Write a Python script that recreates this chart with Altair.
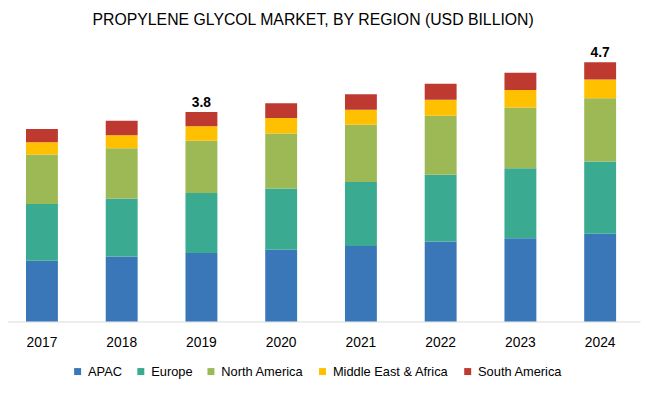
import altair as alt
import pandas as pd

years = ["2017", "2018", "2019", "2020", "2021", "2022", "2023", "2024"]
regions = ["APAC", "Europe", "North America", "Middle East & Africa", "South America"]
apac = [1.10, 1.18, 1.24, 1.30, 1.37, 1.45, 1.51, 1.59]
europe = [1.03, 1.05, 1.09, 1.11, 1.16, 1.21, 1.27, 1.31]
north_america = [0.90, 0.91, 0.95, 1.00, 1.04, 1.07, 1.10, 1.15]
middle_east_africa = [0.22, 0.24, 0.26, 0.28, 0.27, 0.29, 0.32, 0.34]
south_america = [0.24, 0.26, 0.26, 0.27, 0.28, 0.29, 0.31, 0.31]
colors = ["#3A77B9", "#3AAA91", "#9DB955", "#FFC000", "#BE3A30"]

label_years = ["2019", "2024"]
label_values = [3.8, 4.7]

series = [apac, europe, north_america, middle_east_africa, south_america]
rows = []
for i, (name, vals) in enumerate(zip(regions, series)):
    for y, v in zip(years, vals):
        rows.append({"Year": y, "Region": name, "Value": v, "idx": i})
df = pd.DataFrame(rows)
labels = pd.DataFrame({"Year": label_years, "Total": label_values})

x = alt.X("Year:N", sort=years, title=None,
          scale=alt.Scale(range=[-6, 640], paddingInner=0.6, paddingOuter=0.3),
          axis=alt.Axis(labelAngle=0, ticks=False, domainColor="#D9D9D9",
                        labelFontSize=14, labelFont="Liberation Sans",
                        labelColor="#000000", labelPadding=14))
yscale = alt.Scale(domain=[0, 5.07])

bars = alt.Chart(df).mark_bar().encode(
    x=x,
    y=alt.Y("Value:Q", stack="zero", scale=yscale, axis=None),
    color=alt.Color("Region:N", sort=regions,
                    scale=alt.Scale(domain=regions, range=colors),
                    legend=alt.Legend(title=None, orient="none", direction="horizontal",
                                      legendX=64, legendY=327,
                                      symbolType="square", symbolSize=50,
                                      labelFontSize=13, labelFont="Liberation Sans",
                                      labelColor="#000000", columnPadding=12,
                                      labelOffset=4,
                                      symbolStrokeWidth=0)),
    order=alt.Order("idx:Q", sort="ascending"),
)

text = alt.Chart(labels).mark_text(dy=-9, fontSize=14, fontWeight="bold",
                                   font="Liberation Sans", color="#000000").encode(
    x=alt.X("Year:N", sort=years),
    y=alt.Y("Total:Q", scale=yscale),
    text=alt.Text("Total:Q", format=".1f"),
)

chart = alt.layer(bars, text).properties(
    width=642, height=283,
    autosize=alt.AutoSizeParams(type="none"),
    padding={"left": 0, "top": 32, "right": 0, "bottom": 66},
    title=alt.Title("PROPYLENE GLYCOL MARKET, BY REGION (USD BILLION)",
                    fontSize=16, fontWeight="normal", font="Liberation Sans",
                    color="#000000", anchor="middle", offset=14, dx=-12),
).configure_view(stroke=None)

chart.save("out.html", embed_options={"renderer": "svg", "actions": False})
